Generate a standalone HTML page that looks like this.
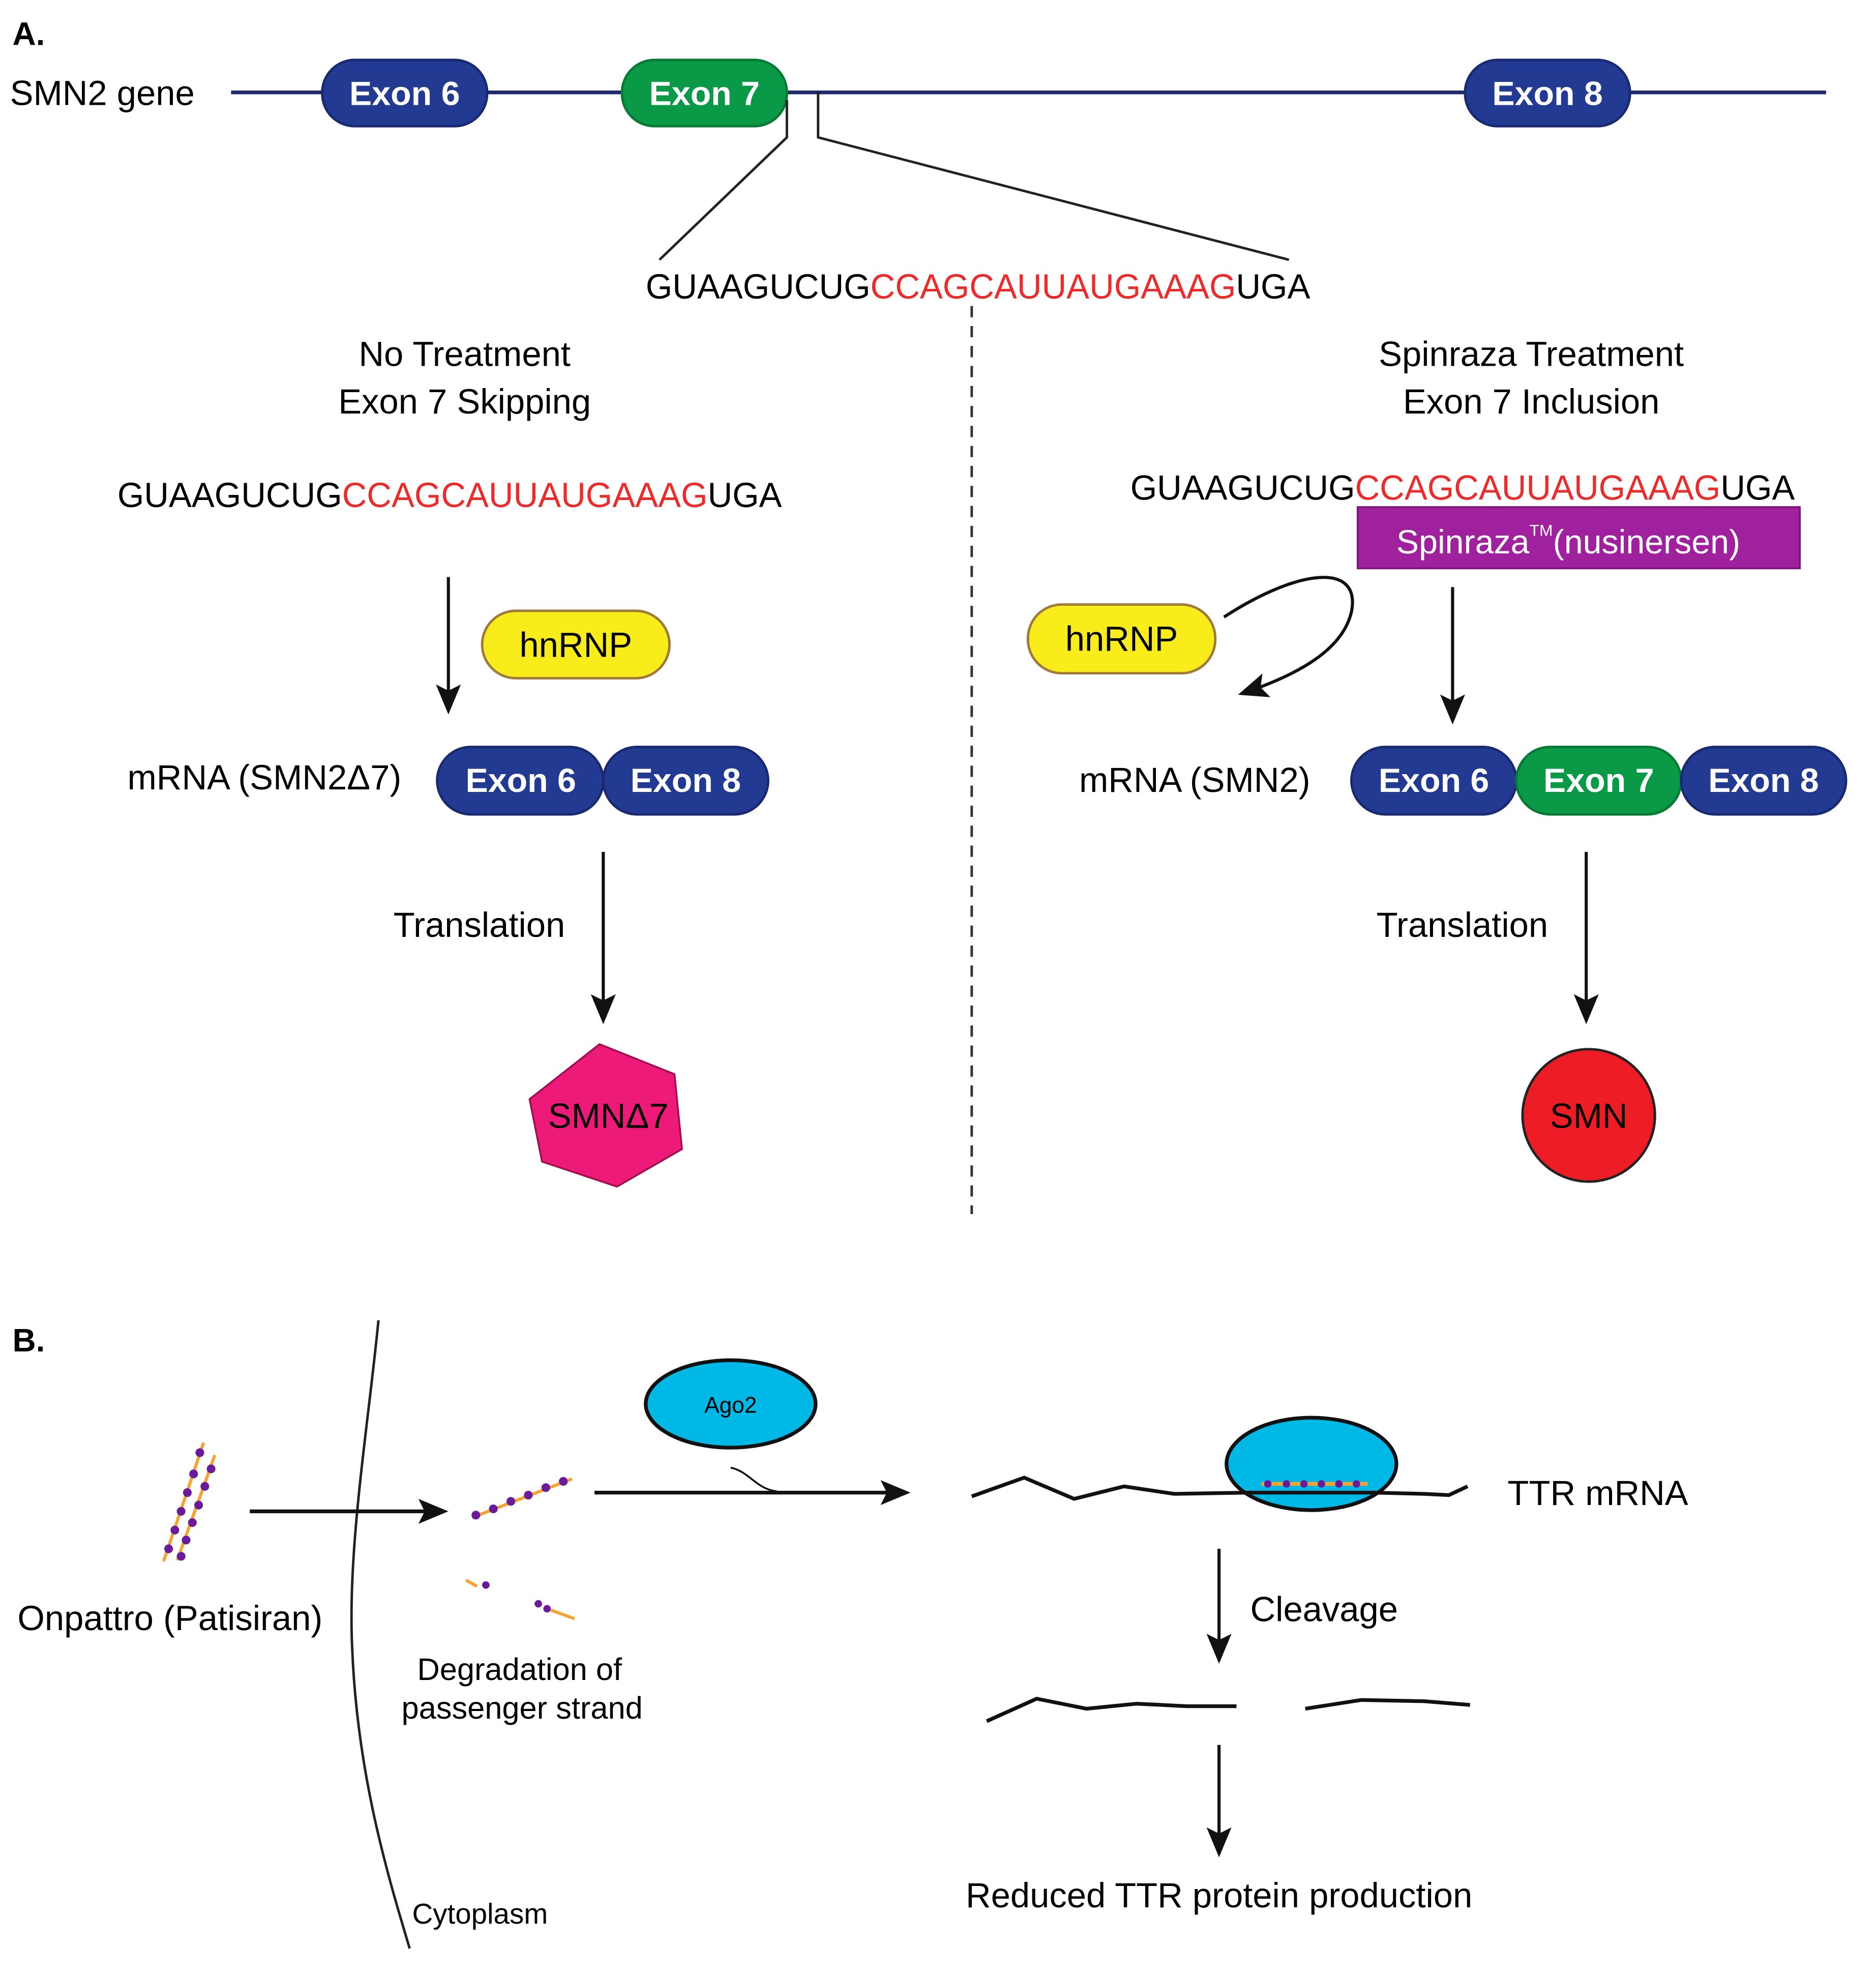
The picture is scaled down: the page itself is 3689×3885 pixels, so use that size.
<!DOCTYPE html>
<html><head><meta charset="utf-8"><style>
html,body{margin:0;padding:0;background:#fff}
svg{display:block}
text{font-family:"Liberation Sans",sans-serif}
</style></head><body>
<svg width="3689" height="3885" viewBox="0 0 1502 1582" preserveAspectRatio="none" xmlns="http://www.w3.org/2000/svg">
<defs>
<marker id="ah" markerWidth="10" markerHeight="10" refX="8" refY="5" orient="auto" markerUnits="userSpaceOnUse" viewBox="0 0 10 10">
<path d="M0,0 L10,5 L0,10 L2.5,5 z" fill="#111"/></marker>
<marker id="ahb" markerWidth="24" markerHeight="24" refX="20" refY="12" orient="auto" markerUnits="userSpaceOnUse" viewBox="0 0 24 24">
<path d="M0,2 L24,12 L0,22 L5,12 z" fill="#111"/></marker>
</defs>
<text x="10" y="36" font-size="26" font-weight="bold">A.</text>
<text x="8" y="84" font-size="28">SMN2 gene</text>
<line x1="185" y1="74" x2="1462" y2="74" stroke="#1f2a6e" stroke-width="3"/>
<g font-size="27" font-weight="bold" fill="#fff" text-anchor="middle">
<rect x="258" y="48" width="132" height="53" rx="26" fill="#233a93" stroke="#1a2a70" stroke-width="2"/>
<text x="324" y="84">Exon 6</text>
<rect x="498" y="48" width="132" height="53" rx="26" fill="#0a9a47" stroke="#077a36" stroke-width="2"/>
<text x="564" y="84">Exon 7</text>
<rect x="1173" y="48" width="132" height="53" rx="26" fill="#233a93" stroke="#1a2a70" stroke-width="2"/>
<text x="1239" y="84">Exon 8</text>
</g>
<polyline points="630,80 630,110 528,208" fill="none" stroke="#222" stroke-width="2"/>
<polyline points="655,74 655,110 1032,208" fill="none" stroke="#222" stroke-width="2"/>
<text x="783" y="239" font-size="28" text-anchor="middle" textLength="532" lengthAdjust="spacingAndGlyphs">GUAAGUCUG<tspan fill="#ee2b2b">CCAGCAUUAUGAAAG</tspan>UGA</text>
<line x1="778" y1="245" x2="778" y2="972" stroke="#333" stroke-width="2" stroke-dasharray="9,7"/>
<g font-size="28" text-anchor="middle">
<text x="372" y="293">No Treatment</text>
<text x="372" y="331">Exon 7 Skipping</text>
<text x="1226" y="293">Spinraza Treatment</text>
<text x="1226" y="331">Exon 7 Inclusion</text>
</g>
<text x="360" y="406" font-size="28" text-anchor="middle" textLength="532" lengthAdjust="spacingAndGlyphs">GUAAGUCUG<tspan fill="#ee2b2b">CCAGCAUUAUGAAAG</tspan>UGA</text>
<line x1="359" y1="462" x2="359" y2="568" stroke="#111" stroke-width="2.5" marker-end="url(#ahb)"/>
<rect x="386" y="489" width="150" height="54" rx="27" fill="#f8ec1a" stroke="#a07a3a" stroke-width="2"/>
<text x="461" y="526" font-size="28" text-anchor="middle">hnRNP</text>
<text x="102" y="632" font-size="28">mRNA (SMN2Δ7)</text>
<g font-size="27" font-weight="bold" fill="#fff" text-anchor="middle">
<rect x="350" y="598" width="133" height="54" rx="27" fill="#233a93" stroke="#1a2a70" stroke-width="2"/>
<text x="417" y="634">Exon 6</text>
<rect x="483" y="598" width="132" height="54" rx="27" fill="#233a93" stroke="#1a2a70" stroke-width="2"/>
<text x="549" y="634">Exon 8</text>
</g>
<text x="315" y="750" font-size="28">Translation</text>
<line x1="483" y1="682" x2="483" y2="816" stroke="#111" stroke-width="2.5" marker-end="url(#ahb)"/>
<polygon points="480,836 540,860 546,920 494,950 434,930 424,880" fill="#ee1a7a" stroke="#a0104f" stroke-width="1.5"/>
<text x="487" y="903" font-size="28" text-anchor="middle">SMNΔ7</text>

<text x="1171" y="400" font-size="28" text-anchor="middle" textLength="532" lengthAdjust="spacingAndGlyphs">GUAAGUCUG<tspan fill="#ee2b2b">CCAGCAUUAUGAAAG</tspan>UGA</text>
<rect x="1087" y="406" width="354" height="49" fill="#a0219e" stroke="#7a1579" stroke-width="1.5"/>
<text x="1118" y="443" font-size="27" fill="#fff">Spinraza<tspan font-size="13" dy="-14">TM</tspan><tspan dy="14">(nusinersen)</tspan></text>
<rect x="823" y="484" width="150" height="55" rx="27" fill="#f8ec1a" stroke="#a07a3a" stroke-width="2"/>
<text x="898" y="521" font-size="28" text-anchor="middle">hnRNP</text>
<path d="M980,494 C1040,455 1090,450 1082,490 C1075,520 1040,540 995,555" fill="none" stroke="#111" stroke-width="2.5" marker-end="url(#ahb)"/>
<line x1="1163" y1="470" x2="1163" y2="576" stroke="#111" stroke-width="2.5" marker-end="url(#ahb)"/>
<text x="864" y="634" font-size="28">mRNA (SMN2)</text>
<g font-size="27" font-weight="bold" fill="#fff" text-anchor="middle">
<rect x="1082" y="598" width="132" height="54" rx="27" fill="#233a93" stroke="#1a2a70" stroke-width="2"/>
<text x="1148" y="634">Exon 6</text>
<rect x="1214" y="598" width="132" height="54" rx="27" fill="#0a9a47" stroke="#077a36" stroke-width="2"/>
<text x="1280" y="634">Exon 7</text>
<rect x="1346" y="598" width="132" height="54" rx="27" fill="#233a93" stroke="#1a2a70" stroke-width="2"/>
<text x="1412" y="634">Exon 8</text>
</g>
<text x="1102" y="750" font-size="28">Translation</text>
<line x1="1270" y1="682" x2="1270" y2="816" stroke="#111" stroke-width="2.5" marker-end="url(#ahb)"/>
<circle cx="1272" cy="893" r="53" fill="#ee1c24" stroke="#222" stroke-width="2"/>
<text x="1272" y="903" font-size="28" text-anchor="middle">SMN</text>

<!-- B -->
<text x="10" y="1082" font-size="26" font-weight="bold">B.</text>
<path d="M303,1057 C295,1140 278,1240 282,1320 C286,1420 310,1500 328,1560" fill="none" stroke="#222" stroke-width="2"/>
<g stroke="#f7a233" stroke-width="2.5">
<line x1="163" y1="1155" x2="131" y2="1250"/>
<line x1="172" y1="1165" x2="142" y2="1249"/>
<line x1="378" y1="1215" x2="458" y2="1184"/>
<line x1="373" y1="1265" x2="382" y2="1270"/>
<line x1="441" y1="1289" x2="460" y2="1296"/>
</g>
<g fill="#6a1b9a">
<circle cx="160" cy="1163" r="3.5"/><circle cx="155" cy="1180" r="3.5"/><circle cx="150" cy="1195" r="3.5"/><circle cx="145" cy="1210" r="3.5"/><circle cx="140" cy="1225" r="3.5"/><circle cx="135" cy="1240" r="3.5"/>
<circle cx="169" cy="1176" r="3.5"/><circle cx="164" cy="1190" r="3.5"/><circle cx="159" cy="1205" r="3.5"/><circle cx="154" cy="1219" r="3.5"/><circle cx="149" cy="1233" r="3.5"/><circle cx="145" cy="1246" r="3.5"/>
<circle cx="381" cy="1213" r="3.5"/><circle cx="395" cy="1208" r="3.5"/><circle cx="409" cy="1202" r="3.5"/><circle cx="423" cy="1197" r="3.5"/><circle cx="437" cy="1191" r="3.5"/><circle cx="451" cy="1186" r="3.5"/>
<circle cx="389" cy="1269" r="3"/><circle cx="431" cy="1284" r="3"/><circle cx="438" cy="1288" r="3"/>
</g>
<text x="14" y="1305" font-size="28">Onpattro (Patisiran)</text>
<line x1="200" y1="1210" x2="355" y2="1210" stroke="#111" stroke-width="3" marker-end="url(#ahb)"/>
<text x="416" y="1345" font-size="25" text-anchor="middle">Degradation of</text>
<text x="418" y="1376" font-size="25" text-anchor="middle">passenger strand</text>
<ellipse cx="585" cy="1124" rx="68" ry="35" fill="#00b8e6" stroke="#111" stroke-width="3"/>
<text x="585" y="1131" font-size="18" text-anchor="middle">Ago2</text>
<path d="M585,1175 C600,1178 605,1192 622,1194" fill="none" stroke="#111" stroke-width="1.5"/>
<line x1="476" y1="1195" x2="725" y2="1195" stroke="#111" stroke-width="3" marker-end="url(#ahb)"/>
<ellipse cx="1050" cy="1172" rx="68" ry="37" fill="#00b8e6" stroke="#111" stroke-width="3"/>
<path d="M778,1198 L820,1183 L860,1200 L900,1190 L940,1196 L1000,1195 L1100,1195 L1140,1196 L1160,1197 L1175,1190" fill="none" stroke="#111" stroke-width="3"/>
<line x1="1010" y1="1188" x2="1095" y2="1188" stroke="#f7a233" stroke-width="3"/>
<g fill="#6a1b9a"><circle cx="1015" cy="1188" r="3"/><circle cx="1030" cy="1188" r="3"/><circle cx="1044" cy="1188" r="3"/><circle cx="1058" cy="1188" r="3"/><circle cx="1072" cy="1188" r="3"/><circle cx="1086" cy="1188" r="3"/></g>
<text x="1207" y="1205" font-size="28">TTR mRNA</text>
<line x1="976" y1="1240" x2="976" y2="1328" stroke="#111" stroke-width="2.5" marker-end="url(#ahb)"/>
<text x="1001" y="1298" font-size="28">Cleavage</text>
<path d="M790,1378 L830,1360 L870,1368 L910,1364 L950,1366 L990,1366" fill="none" stroke="#111" stroke-width="3"/>
<path d="M1045,1368 L1090,1361 L1140,1362 L1177,1365" fill="none" stroke="#111" stroke-width="3"/>
<line x1="976" y1="1397" x2="976" y2="1483" stroke="#111" stroke-width="2.5" marker-end="url(#ahb)"/>
<text x="976" y="1527" font-size="28" text-anchor="middle">Reduced TTR protein production</text>
<text x="330" y="1540" font-size="23">Cytoplasm</text>
</svg>
</body></html>
